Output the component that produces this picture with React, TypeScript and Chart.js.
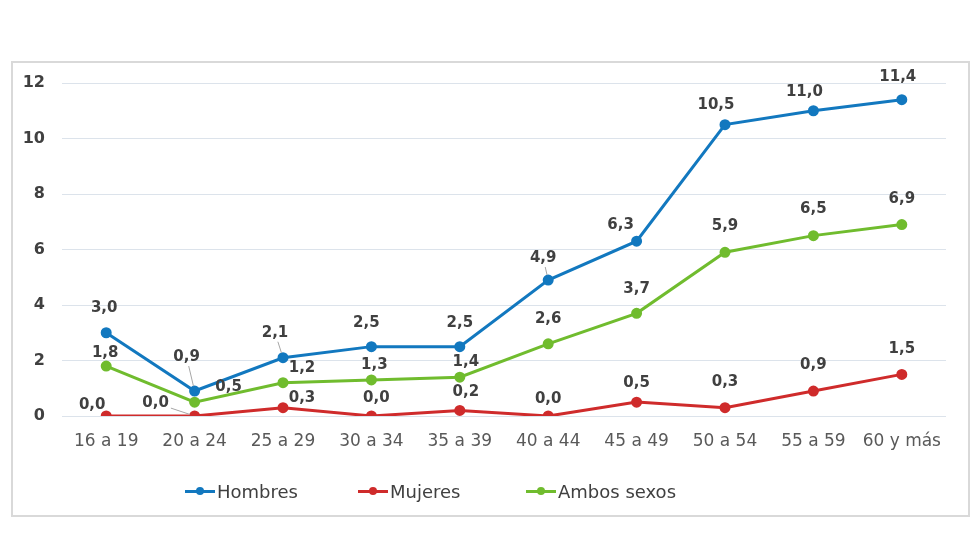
import React, { useEffect, useRef } from "react";
import { Chart, registerables } from "chart.js";

Chart.register(...registerables);

const categories = ["16 a 19", "20 a 24", "25 a 29", "30 a 34", "35 a 39", "40 a 44", "45 a 49", "50 a 54", "55 a 59", "60 y más"];
const hombres = [3.0, 0.9, 2.1, 2.5, 2.5, 4.9, 6.3, 10.5, 11.0, 11.4];
const mujeres = [0.0, 0.0, 0.3, 0.0, 0.2, 0.0, 0.5, 0.3, 0.9, 1.5];
const ambos = [1.8, 0.5, 1.2, 1.3, 1.4, 2.6, 3.7, 5.9, 6.5, 6.9];
const yTicks = [0, 2, 4, 6, 8, 10, 12];

const seriesNames = ["Hombres", "Mujeres", "Ambos sexos"];
const seriesColors = ["#1278BF", "#CF2B2B", "#70BC2E"];

// label nudges relative to each point: [dx, dy, leader]
const labelNudges: number[][][] = [
  [[-2, -25, 0], [-8, -34, 1], [-8, -25, 1], [-5, -24, 0], [0, -24, 0], [-5, -22, 1], [-16, -16, 0], [-9, -20, 0], [-9, -19, 0], [-4, -23, 0]],
  [[-14, -11, 0], [-39, -13, 1], [19, -10, 0], [5, -18, 0], [6, -18, 0], [0, -17, 0], [0, -19, 0], [0, -26, 0], [0, -26, 0], [0, -25, 0]],
  [[-1, -13, 0], [34, -15, 0], [19, -15, 0], [3, -15, 0], [6, -15, 0], [0, -25, 0], [0, -24, 0], [0, -26, 0], [0, -27, 0], [0, -25, 0]],
];

const FONT = "'DejaVu Sans', sans-serif";

const labelPlugin = {
  id: "pointLabels",
  afterDatasetsDraw(chart: any) {
    const ctx = chart.ctx;
    ctx.save();
    ctx.font = `bold 15px ${FONT}`;
    ctx.textAlign = "center";
    ctx.textBaseline = "middle";
    chart.data.datasets.forEach((ds: any, di: number) => {
      const meta = chart.getDatasetMeta(di);
      meta.data.forEach((pt: any, i: number) => {
        const v = ds.data[i] as number;
        const text = v.toFixed(1).replace(".", ",");
        const n = labelNudges[di][i];
        const lx = pt.x + n[0];
        const ly = pt.y + n[1];
        if (n[2]) {
          const w = ctx.measureText(text).width / 2 + 2;
          const h = 9;
          const dx = pt.x - lx;
          const dy = pt.y - ly;
          const s = Math.min(Math.abs(dx) > 0 ? w / Math.abs(dx) : Infinity, Math.abs(dy) > 0 ? h / Math.abs(dy) : Infinity);
          const sx = lx + dx * s;
          const sy = ly + dy * s;
          const len = Math.hypot(dx, dy);
          const ex = pt.x - (dx / len) * 5;
          const ey = pt.y - (dy / len) * 5;
          ctx.strokeStyle = "#A6A6A6";
          ctx.lineWidth = 1;
          ctx.beginPath();
          ctx.moveTo(sx, sy);
          ctx.lineTo(ex, ey);
          ctx.stroke();
        }
        ctx.fillStyle = "#404040";
        ctx.fillText(text, lx, ly);
      });
    });
    ctx.restore();
  },
};

const legendLefts = [185, 358, 526];

export default function App() {
  const ref = useRef<HTMLCanvasElement | null>(null);
  useEffect(() => {
    if (!ref.current) return;
    const series = [hombres, mujeres, ambos];
    const chart = new Chart(ref.current, {
      type: "line",
      data: {
        labels: categories,
        datasets: series.map((d, i) => ({
          label: seriesNames[i],
          data: d,
          borderColor: seriesColors[i],
          backgroundColor: seriesColors[i],
          pointBackgroundColor: seriesColors[i],
          pointBorderColor: seriesColors[i],
          borderWidth: 3,
          pointRadius: 4,
          tension: 0,
        })),
      },
      options: {
        responsive: false,
        animation: false,
        layout: { padding: { left: 20, right: 34, top: 83, bottom: 104 } },
        plugins: { legend: { display: false }, tooltip: { enabled: false } },
        scales: {
          x: {
            offset: true,
            grid: { display: false, drawTicks: false },
            border: { display: false },
            ticks: { color: "#595959", font: { family: FONT, size: 17 }, padding: 15, maxRotation: 0, autoSkip: false },
            afterFit: (s: any) => { s.height = 40; },
          },
          y: {
            min: 0,
            max: 12,
            afterBuildTicks: (s: any) => { s.ticks = yTicks.map((v) => ({ value: v })); },
            grid: { color: "#DCE3EB", lineWidth: 1, drawTicks: false },
            border: { display: false },
            ticks: { color: "#404040", font: { family: FONT, size: 16, weight: "bold" }, padding: 17 },
            afterFit: (s: any) => { s.width = 42; },
          },
        },
      },
      plugins: [labelPlugin],
    } as any);
    return () => chart.destroy();
  }, []);

  return (
    <div style={{ position: "fixed", left: 0, top: 0, width: 980, height: 560, background: "#fff", fontFamily: FONT }}>
      <div style={{ position: "absolute", left: 11, top: 61, width: 955, height: 452, border: "2px solid #D9D9D9" }} />
      <canvas ref={ref} width={980} height={560} style={{ position: "absolute", left: 0, top: 0, width: 980, height: 560 }} />
      {seriesNames.map((name, i) => (
        <div key={name} style={{ position: "absolute", left: legendLefts[i], top: 479, height: 24, display: "flex", alignItems: "center" }}>
          <div style={{ position: "relative", width: 30, height: 3, background: seriesColors[i] }}>
            <div style={{ position: "absolute", left: 11, top: -3, width: 8, height: 8, borderRadius: 4, background: seriesColors[i] }} />
          </div>
          <span style={{ marginLeft: 2, fontSize: 18, color: "#404040", whiteSpace: "nowrap" }}>{name}</span>
        </div>
      ))}
    </div>
  );
}
